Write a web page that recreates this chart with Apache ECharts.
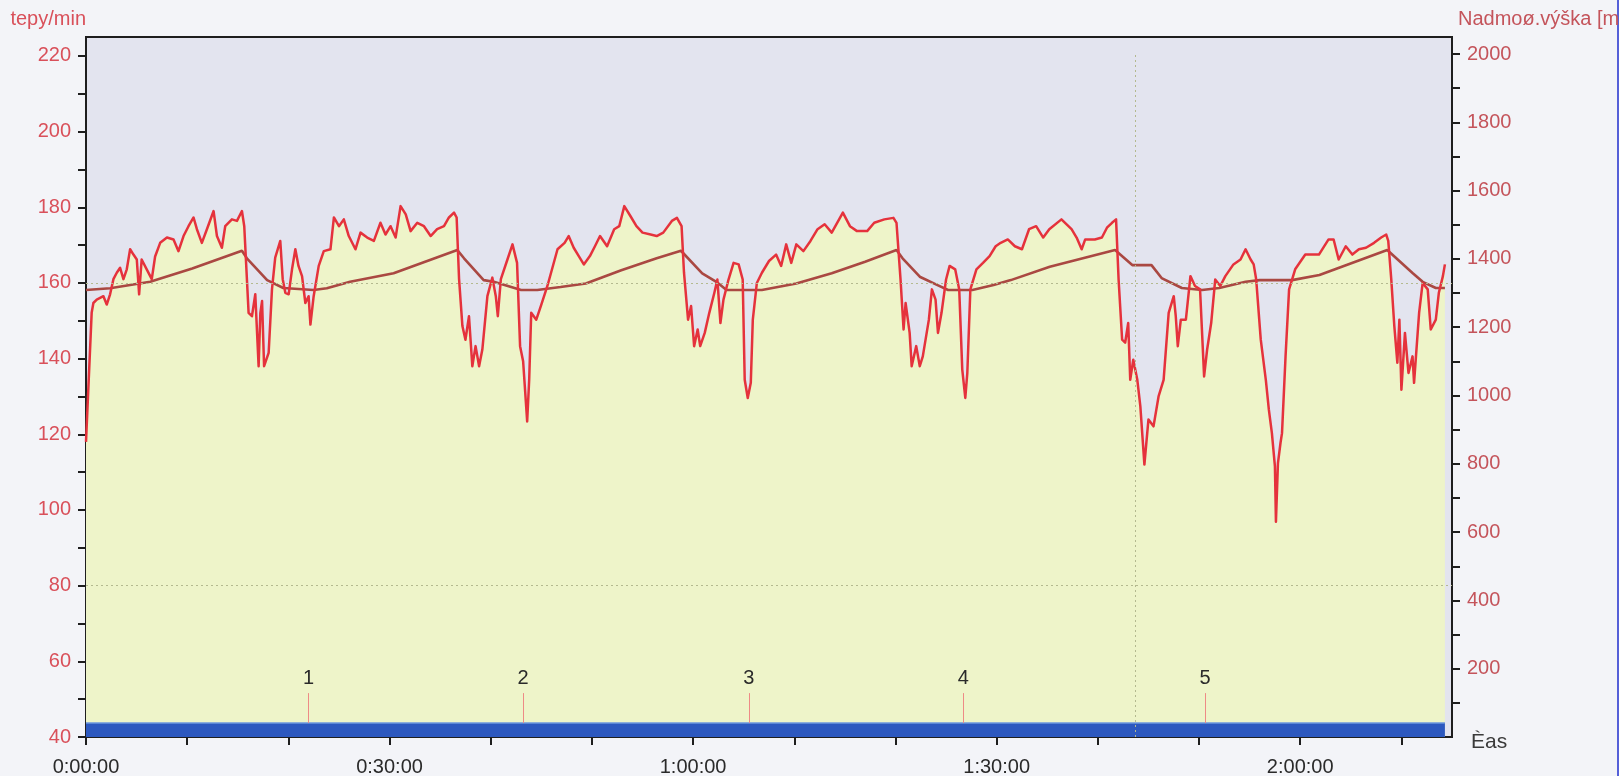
<!DOCTYPE html>
<html>
<head>
<meta charset="utf-8">
<title>Tepová frekvence a nadmořská výška</title>
<script src="https://cdn.jsdelivr.net/npm/echarts@6/dist/echarts.min.js"></script>
<style>
  html, body { margin: 0; padding: 0; background: #f3f4f8; }
  #chart { width: 1619px; height: 776px; }
</style>
</head>
<body>
<div id="chart"></div>
<script>
// Heart rate samples: [minutes from start, beats per minute]
const heartRate = [
  [0,118],[0.56,152.1],[0.73,154.7],[1.06,155.6],[1.72,156.5],[2.05,154.3],[2.38,157],[2.71,161],
  [3.04,162.7],[3.37,164],[3.7,161],[4.03,163.6],[4.36,168.9],[4.69,167.5],[5.02,166.2],[5.25,157],
  [5.5,166.2],[6.0,163.6],[6.5,161],[6.83,167],[7.33,170.6],[8.0,172],[8.65,171.5],[9.14,168.4],
  [9.64,172.4],[10.13,175],[10.63,177.3],[10.96,174.2],[11.45,170.6],[11.95,174.2],[12.61,179],
  [12.94,172.4],[13.43,169.3],[13.76,175],[14.42,176.8],[14.92,176.4],[15.41,179],[15.64,175],
  [16.07,152.1],[16.4,151.2],[16.73,157],[17.06,138],[17.23,152],[17.4,155.2],[17.6,138],[18.05,141.5],
  [18.38,158.3],[18.7,166.7],[19.2,171.1],[19.44,161],[19.7,157.4],[20.03,157],[20.36,163.6],
  [20.69,168.9],[21.0,164.5],[21.35,161.8],[21.68,154.7],[22.0,156.5],[22.18,149],[22.5,156.5],
  [23.0,164.5],[23.5,168.4],[24.16,168.9],[24.5,177.3],[25.0,175],[25.48,176.8],[25.97,172.4],
  [26.63,168.9],[27.13,173.3],[27.79,172],[28.45,171.1],[29.1,175.9],[29.6,172.8],[30.1,175],
  [30.6,172],[31.09,180.3],[31.6,178.1],[32.08,173.7],[32.74,175.9],[33.4,175],[34.06,172.4],
  [34.7,174.2],[35.38,175],[35.87,177.3],[36.37,178.6],[36.63,177.3],
  [36.87,161],[37.2,148.6],[37.5,145],[37.85,151.2],[38.18,138],[38.5,143.3],[38.85,138],[39.17,142.4],
  [39.67,156.5],[40.16,161.4],[40.5,156.5],[40.7,151.2],[41.0,161],[41.65,166.2],[42.15,170.2],
  [42.6,165.3],[42.9,143.3],[43.2,139.3],[43.6,123.4],[43.8,134.4],[44.0,152.1],[44.5,150.3],
  [44.95,153.9],[45.6,159.2],
  [46.6,168.9],[47.3,170.6],[47.7,172.4],[48.2,169.3],[48.7,167.1],[49.2,164.9],[49.8,167.1],
  [50.3,169.7],[50.8,172.4],[51.5,169.7],[52.2,174.2],[52.7,175.0],[53.2,180.3],[53.8,177.7],
  [54.4,175.0],[55.0,173.3],[55.8,172.8],[56.4,172.4],[57.05,173.3],[57.9,176.4],[58.4,177.2],
  [58.86,175.0],
  [59.1,162.7],[59.5,150.3],[59.8,153.9],[60.1,143.3],[60.45,147.7],[60.7,143.3],[61.15,146.8],
  [61.6,152.1],[62.1,157.4],[62.4,160.9],[62.7,149.4],[63.0,155.6],[63.5,160.9],[64.0,165.3],
  [64.5,164.9],[64.9,160.9],[65.1,134.4],[65.4,129.6],[65.7,133.6],[65.9,150.3],[66.3,160.0],
  [66.8,162.7],[67.5,165.8],[68.2,167.5],[68.7,164.5],[69.2,170.2],[69.7,165.3],[70.2,170.2],
  [70.9,168.4],[71.6,171.1],[72.3,174.2],[73.0,175.5],[73.7,173.3],[74.8,178.6],[75.5,175.0],
  [76.2,173.7],[77.2,173.7],[77.9,175.9],[78.9,176.8],[79.8,177.2],[80.1,175.9],
  [80.5,160.9],[80.8,147.7],[81.0,154.7],[81.4,146.8],[81.6,138.0],[82.05,143.3],[82.4,138.0],
  [82.7,140.6],[83.3,150.3],[83.6,158.3],[83.96,155.6],[84.2,146.8],[84.55,152.1],[85.0,160.9],
  [85.35,164.5],[85.9,163.6],[86.3,158.3],[86.6,137.1],[86.9,129.6],[87.1,136.2],[87.4,158.3],
  [88.0,163.6],[88.65,165.3],[89.3,167.1],[89.9,169.7],[90.4,170.6],[91.1,171.5],[91.8,169.7],
  [92.5,168.9],[93.2,174.2],[93.9,175.0],[94.6,172.0],[95.2,174.2],
  [96.4,176.8],[97.4,174.2],[97.9,172.0],[98.4,168.9],[98.75,171.5],[99.7,171.5],[100.4,172],
  [100.9,174.6],[101.4,175.9],[101.8,176.8],
  [102.05,160.9],[102.4,145],[102.7,144.2],[103.0,149.4],[103.2,134.4],[103.5,139.7],[103.9,134.4],
  [104.2,127.4],[104.6,112.0],[105.0,123.9],[105.5,122.1],[106.0,130.0],[106.5,134.4],[107.0,152.1],
  [107.5,156.5],[107.7,151.2],[107.9,143.3],[108.2,150.3],[108.7,150.3],[109.15,161.8],[109.6,159.2],
  [110.1,158.3],[110.5,135.3],[110.8,142.4],[111.2,149.4],[111.6,160.9],[112.1,159.2],[112.6,161.8],
  [113.4,164.9],[114.1,166.2],[114.6,168.9],[115.1,166.2],[115.4,164.9],[115.65,160.9],
  [116.1,145],[116.6,134.4],[116.9,126.5],[117.2,120.3],[117.5,111.5],[117.6,96.9],[117.8,112.4],
  [118.05,117.7],[118.2,120.3],[118.55,140.6],[118.9,158.3],[119.5,163.6],[120.5,167.5],
  [121.85,167.5],[122.8,171.5],[123.3,171.5],[123.8,166.2],[124.5,169.7],[125.15,167.5],
  [125.8,168.9],[126.5,169.3],[127.3,170.6],[128.0,172.0],[128.5,172.8],[128.7,171.1],
  [129.0,160.9],[129.3,148.6],[129.6,138.9],[129.8,150.3],[130.0,131.8],[130.35,146.8],[130.7,136.2],
  [131.1,140.6],[131.25,133.6],[131.75,152.1],[132.1,160],[132.6,158.3],[132.9,147.7],[133.4,150.3],
  [133.7,157.4],[134.1,161.8],[134.3,164.9]
];

// Altitude profile: [minutes from start, metres above sea level]
const altitude = [
  [0,1309],[2.38,1314],[6.34,1333],[10.5,1372],[15.41,1424],
  [15.9,1402],[17.9,1338],[19.5,1315],[22.5,1309],[23.8,1314],[26.1,1333],[30.4,1358],[36.7,1426],
  [37.36,1402],[39.3,1338],[40.3,1333],[43.0,1309],[44.6,1309],[46.9,1318],[49.4,1328],[52.9,1367],
  [56.4,1402],[58.8,1424],
  [60.9,1358],[62.3,1333],[63.3,1309],[66.8,1309],[70.2,1328],[73.7,1358],[77.0,1392],[80.1,1426],
  [80.7,1402],[82.4,1348],[84.1,1324],[85.2,1309],[87.6,1309],[89.7,1324],[91.4,1338],[95.25,1377],
  [101.7,1426],
  [103.4,1382],[105.3,1382],[106.3,1344],[108.3,1315],[110.3,1309],[112.0,1315],[114.6,1333],
  [116.0,1338],[119.2,1338],[121.9,1353],[128.6,1426],
  [131.1,1359],[132.1,1333],[133.4,1315],[134.3,1315]
];

// Lap marks
const lapNames = ['1', '2', '3', '4', '5'];
const lapMinutes = [22.0, 43.2, 65.5, 86.7, 110.6];

// Recording strip along the bottom: start, end (minutes) and its height on the bpm scale
const recordStart = 0;
const recordEnd = 134.3;
const recordTop = 43.7;
const lapMarkTop = 51.6;

// Axis scales and ticks
const timeMax = 135.0;
const timeTicks = [0, 10, 20, 30, 40, 50, 60, 70, 80, 90, 100, 110, 120, 130];
const timeLabels = [0, 30, 60, 90, 120];
const bpmMin = 40, bpmMax = 225;
const bpmTicks = [40, 50, 60, 70, 80, 90, 100, 110, 120, 130, 140, 150, 160, 170, 180, 190, 200, 210, 220];
const bpmLabels = [40, 60, 80, 100, 120, 140, 160, 180, 200, 220];
const altMin = 0, altMax = 2050;
const altTicks = [100, 200, 300, 400, 500, 600, 700, 800, 900, 1000, 1100, 1200, 1300, 1400, 1500, 1600, 1700, 1800, 1900, 2000];
const altLabels = [200, 400, 600, 800, 1000, 1200, 1400, 1600, 1800, 2000];

// Dotted reference lines
const bpmGuides = [80, 160];
const timeGuide = 103.7;

const FONT = '"Liberation Sans", Arial, sans-serif';

function fmtTime(min) {
  const h = Math.floor(min / 60);
  const m = Math.round(min % 60);
  return h + ':' + String(m).padStart(2, '0') + ':00';
}

const chart = echarts.init(document.getElementById('chart'), null, { renderer: 'canvas' });

const dotted = { color: '#b4b98f', type: [2, 3], width: 1 };

chart.setOption({
  backgroundColor: '#f3f4f8',
  animation: false,
  textStyle: { fontFamily: FONT },
  grid: {
    left: 86, right: 167, top: 37, bottom: 39,
    outerBoundsMode: 'none', containLabel: false,
    show: true, backgroundColor: '#e3e4ef', borderColor: '#1e1e1e', borderWidth: 2
  },
  xAxis: {
    type: 'value', min: 0, max: timeMax,
    name: 'Èas', nameLocation: 'end', nameGap: 19,
    nameTextStyle: { color: '#3a3a3a', fontSize: 21, fontFamily: FONT, align: 'left', verticalAlign: 'top', lineHeight: 10 },
    axisLine: { show: true, lineStyle: { color: '#1e1e1e', width: 2 } },
    axisTick: { show: true, length: 8, lineStyle: { color: '#1e1e1e', width: 2 }, customValues: timeTicks },
    axisLabel: { color: '#2a2a2a', fontSize: 20, fontFamily: FONT, margin: 20, customValues: timeLabels, formatter: v => fmtTime(v) },
    splitLine: { show: false }
  },
  yAxis: [
    {
      type: 'value', min: bpmMin, max: bpmMax, position: 'left',
      name: 'tepy/min', nameLocation: 'end', nameGap: 18,
      nameTextStyle: { color: '#d9505a', fontSize: 20, fontFamily: FONT, align: 'right', verticalAlign: 'middle' },
      axisLine: { show: true, lineStyle: { color: '#1e1e1e', width: 2 } },
      axisTick: { show: true, length: 8, lineStyle: { color: '#1e1e1e', width: 2 }, customValues: bpmTicks },
      axisLabel: { color: '#d9505a', fontSize: 20, fontFamily: FONT, margin: 15, customValues: bpmLabels, formatter: v => String(v) },
      splitLine: { show: false }
    },
    {
      type: 'value', min: altMin, max: altMax, position: 'right',
      name: 'Nadmoø.výška [m]', nameLocation: 'end', nameGap: 18,
      nameTextStyle: { color: '#c4545b', fontSize: 20, fontFamily: FONT, align: 'left', verticalAlign: 'middle', padding: [0, 0, 0, 6] },
      axisLine: { show: true, lineStyle: { color: '#1e1e1e', width: 2 } },
      axisTick: { show: true, length: 8, lineStyle: { color: '#1e1e1e', width: 2 }, customValues: altTicks },
      axisLabel: { color: '#c4545b', fontSize: 20, fontFamily: FONT, margin: 15, customValues: altLabels, formatter: v => String(v) },
      splitLine: { show: false }
    }
  ],
  series: [
    {
      // filled area under the heart rate curve
      name: 'tepy-plocha', type: 'line', yAxisIndex: 0, data: heartRate,
      showSymbol: false, silent: true,
      lineStyle: { width: 0 },
      areaStyle: { color: '#eef4c9', opacity: 1, origin: 'start' },
      markLine: {
        silent: true, symbol: 'none', animation: false,
        label: { show: false },
        lineStyle: dotted,
        data: [
          ...bpmGuides.map(v => ({ yAxis: v })),
          [{ coord: [timeGuide, bpmMin] }, { coord: [timeGuide, 221] }]
        ]
      },
      z: 1
    },
    {
      // recording strip and lap marks
      name: 'záznam', type: 'line', yAxisIndex: 0,
      data: [[recordStart, recordTop], [recordEnd, recordTop]],
      showSymbol: false, silent: true,
      lineStyle: { color: '#6b97de', width: 1.5 },
      areaStyle: { color: '#2c58bf', opacity: 1, origin: 'start' },
      markLine: {
        silent: true, symbol: 'none', animation: false,
        lineStyle: { color: '#ee8a86', width: 1, type: 'solid' },
        label: { show: true, position: 'end', distance: 5, color: '#2a2a2a', fontSize: 20, fontFamily: FONT, formatter: p => p.name },
        data: lapMinutes.map((t, i) => [
          { name: lapNames[i], coord: [t, recordTop] },
          { coord: [t, lapMarkTop] }
        ])
      },
      z: 2
    },
    {
      name: 'Nadmořská výška', type: 'line', yAxisIndex: 1, data: altitude,
      showSymbol: false, silent: true,
      lineStyle: { color: '#aa4842', width: 2.6 },
      z: 3
    },
    {
      name: 'Tepová frekvence', type: 'line', yAxisIndex: 0, data: heartRate,
      showSymbol: false, silent: true,
      lineStyle: { color: '#e5323c', width: 2.5, join: 'round' },
      z: 4
    }
  ],
  graphic: [
    { type: 'rect', right: 0, top: 0, shape: { width: 2, height: 776 }, style: { fill: '#5560d8' }, silent: true }
  ]
});
</script>
</body>
</html>
